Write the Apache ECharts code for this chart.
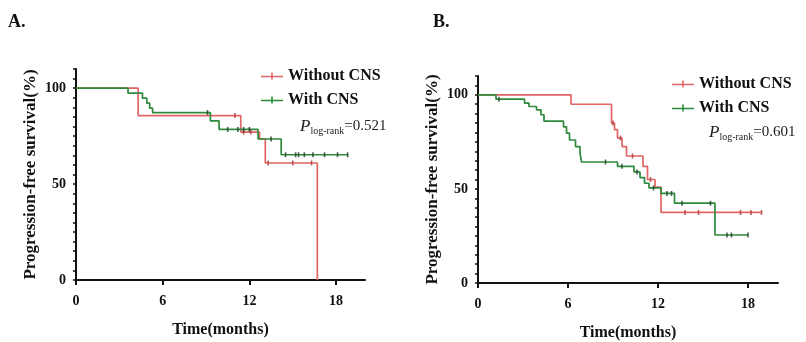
<!DOCTYPE html>
<html><head><meta charset="utf-8">
<script src="https://cdn.jsdelivr.net/npm/echarts@6/dist/echarts.min.js"></script>
<style>html,body{margin:0;padding:0;background:#fff}#c{width:806px;height:342px}</style>
</head><body><div id="c"></div>
<script>
// ---- tick labels ----
const xTickValues = [0, 6, 12, 18];
const yLabelValues = [0, 50, 100];
const groupNames = ['Without CNS', 'With CNS'];
const pTextA = '0.521';
const pTextB = '0.601';

// ---- Panel A: Without CNS (event times / survival after event) ----
const aRedT = [0, 4.3, 11.4, 12.7, 13.1, 16.7];
const aRedS = [100, 85.7, 77.1, 73.5, 61.0, 0];
const aRedEnd = 16.7;
const aRedCensT = [11.0, 11.6, 12.1, 13.3, 15.0, 16.3];
const aRedCensS = [85.7, 77.1, 77.1, 61.0, 61.0, 61.0];
// ---- Panel A: With CNS ----
const aGrnT = [0, 3.6, 4.6, 4.9, 5.1, 5.3, 9.3, 9.9, 12.6, 14.2];
const aGrnS = [100, 97.4, 94.8, 92.2, 89.6, 87.3, 83.0, 78.5, 73.5, 65.3];
const aGrnEnd = 18.8;
const aGrnCensT = [9.1, 10.5, 11.2, 11.6, 12.0, 13.5, 14.5, 15.2, 15.4, 15.8, 16.4, 17.2, 18.1, 18.8];
const aGrnCensS = [87.3, 78.5, 78.5, 78.5, 78.5, 73.5, 65.3, 65.3, 65.3, 65.3, 65.3, 65.3, 65.3, 65.3];

// ---- Panel B: Without CNS ----
const bRedT = [0, 6.2, 8.9, 9.1, 9.3, 9.6, 9.9, 11.0, 11.3, 11.8, 12.2];
const bRedS = [100, 95, 85, 81.5, 77, 72.5, 67.5, 62, 55, 51, 37.5];
const bRedEnd = 18.9;
const bRedCensT = [9.0, 9.5, 10.3, 11.5, 13.8, 14.7, 17.5, 18.2, 18.9];
const bRedCensS = [85, 77, 67.5, 55, 37.5, 37.5, 37.5, 37.5, 37.5];
// ---- Panel B: With CNS ----
const bGrnT = [0, 1.2, 3.1, 3.4, 3.9, 4.2, 4.4, 5.7, 5.9, 6.1, 6.5, 6.8, 6.9, 9.3, 10.4, 10.8, 11.1, 11.4, 12.2, 13.1, 15.8];
const bGrnS = [100, 97.7, 95.6, 93.8, 92, 89.4, 86, 83, 79.6, 76, 72.5, 69, 64.3, 62, 59, 56, 53, 50.5, 47.6, 42.4, 25.5];
const bGrnEnd = 18.0;
const bGrnCensT = [1.4, 8.5, 9.6, 10.6, 11.7, 12.6, 12.9, 13.6, 15.5, 16.6, 16.9, 18.0];
const bGrnCensS = [97.7, 64.3, 62, 59, 50.5, 47.6, 47.6, 42.4, 42.4, 25.5, 25.5, 25.5];

const RED = '#e26464', GREEN = '#2e8a3c';
const RED_C = '#a83a3a', GREEN_C = '#1d3d22';
const FONT = '"Liberation Serif", "DejaVu Serif", serif';

function steps(T, S, end) {
  const pts = [[T[0], S[0]]];
  for (let i = 1; i < T.length; i++) {
    pts.push([T[i], S[i - 1]]);
    pts.push([T[i], S[i]]);
  }
  if (end > T[T.length - 1]) pts.push([end, S[S.length - 1]]);
  return pts;
}
function zip(a, b) { return a.map((v, i) => [v, b[i]]); }

const chart = echarts.init(document.getElementById('c'), null, {renderer: 'canvas'});

function xAxis(gi) {
  return {
    gridIndex: gi, type: 'value', min: 0, max: 20, interval: 2,
    name: 'Time(months)', nameLocation: 'middle', nameGap: 42,
    nameTextStyle: {fontFamily: FONT, fontWeight: 'bold', fontSize: 16, color: '#111'},
    axisLine: {show: true, onZero: false, lineStyle: {color: '#111', width: 2}},
    axisTick: {show: true, length: 5, lineStyle: {color: '#111', width: 2}, customValues: xTickValues},
    axisLabel: {fontFamily: FONT, fontWeight: 'bold', fontSize: 14, color: '#111', margin: 14, customValues: xTickValues},
    splitLine: {show: false}
  };
}
function yAxis(gi) {
  return {
    gridIndex: gi, type: 'value', min: 0, max: 110, interval: 5,
    name: 'Progression-free survival(%)', nameLocation: 'middle', nameGap: 37,
    nameTextStyle: {fontFamily: FONT, fontWeight: 'bold', fontSize: 17, color: '#111'},
    axisLine: {show: true, lineStyle: {color: '#111', width: 2}},
    axisTick: {show: true, length: 3, lineStyle: {color: '#111', width: 1.5}},
    axisLabel: {fontFamily: FONT, fontWeight: 'bold', fontSize: 14, color: '#111', margin: 10, customValues: yLabelValues},
    splitLine: {show: false}
  };
}
function lineSeries(name, gi, data, color) {
  return {
    name, type: 'line', xAxisIndex: gi, yAxisIndex: gi, data, showSymbol: false,
    symbol: 'none', lineStyle: {color, width: 1.7}, itemStyle: {color}, animation: false, z: 3
  };
}
function censSeries(name, gi, data, color) {
  return {
    name, type: 'scatter', xAxisIndex: gi, yAxisIndex: gi, data,
    symbol: 'rect', symbolSize: [1.6, 5], itemStyle: {color}, animation: false, z: 4, silent: true
  };
}
const legendIcon = 'path://M0,4.2h22v1.6h-22z M10.2,1h1.6v7h-1.6z';
function legend(left, top) {
  return {
    left, top, orient: 'vertical', itemGap: 8, itemWidth: 22, itemHeight: 8,
    icon: legendIcon, data: groupNames.map(n => ({name: n})),
    textStyle: {fontFamily: FONT, fontWeight: 'bold', fontSize: 16, color: '#111'},
    selectedMode: false
  };
}
function pText(left, top, val) {
  return {
    type: 'text', left, top,
    style: {
      text: '{p|P}{s|log-rank}{v|=' + val + '}',
      rich: {
        p: {fontFamily: FONT, fontStyle: 'italic', fontSize: 17, fill: '#222'},
        s: {fontFamily: FONT, fontSize: 10, fill: '#222', padding: [9, 0, 0, 0]},
        v: {fontFamily: FONT, fontSize: 15, fill: '#222'}
      }
    }
  };
}

chart.setOption({
  animation: false,
  grid: [
    {left: 76, top: 69, width: 289, height: 211, outerBoundsMode: 'none', containLabel: false},
    {left: 478, top: 76, width: 300, height: 207, outerBoundsMode: 'none', containLabel: false}
  ],
  xAxis: [xAxis(0), xAxis(1)],
  yAxis: [yAxis(0), yAxis(1)],
  legend: [legend(256, 63), legend(667, 71)],
  series: [
    lineSeries(groupNames[0], 0, steps(aRedT, aRedS, aRedEnd), RED),
    lineSeries(groupNames[1], 0, steps(aGrnT, aGrnS, aGrnEnd), GREEN),
    censSeries('cA1', 0, zip(aRedCensT, aRedCensS), RED_C),
    censSeries('cA2', 0, zip(aGrnCensT, aGrnCensS), GREEN_C),
    lineSeries(groupNames[0], 1, steps(bRedT, bRedS, bRedEnd), RED),
    lineSeries(groupNames[1], 1, steps(bGrnT, bGrnS, bGrnEnd), GREEN),
    censSeries('cB1', 1, zip(bRedCensT, bRedCensS), RED_C),
    censSeries('cB2', 1, zip(bGrnCensT, bGrnCensS), GREEN_C)
  ],
  graphic: [
    {type: 'text', left: 8, top: 13, style: {text: 'A.', fontFamily: FONT, fontWeight: 'bold', fontSize: 18, fill: '#111'}},
    {type: 'text', left: 433, top: 13, style: {text: 'B.', fontFamily: FONT, fontWeight: 'bold', fontSize: 18, fill: '#111'}},
    pText(300, 118, pTextA),
    pText(709, 124, pTextB)
  ]
});
</script></body></html>
